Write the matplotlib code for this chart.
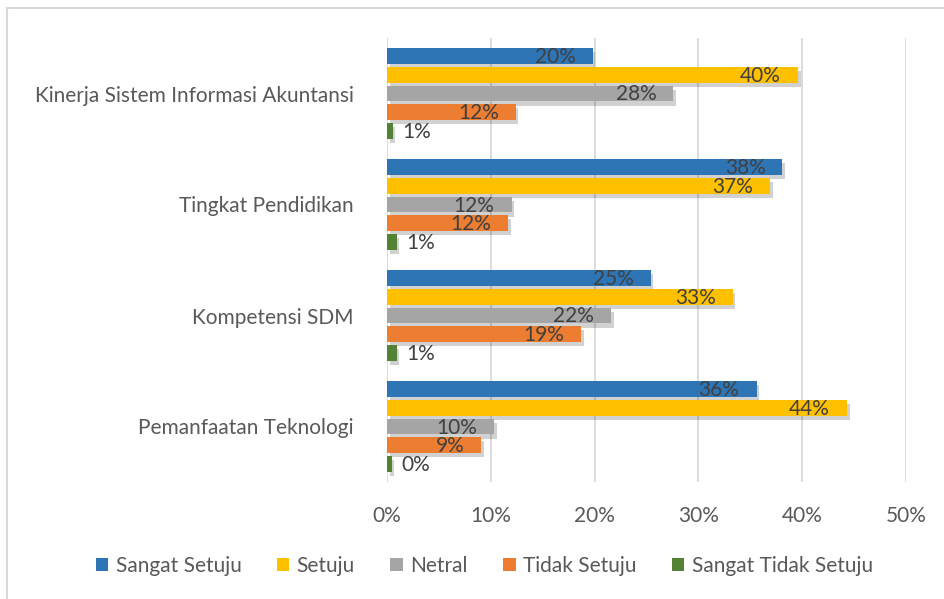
import numpy as np
import matplotlib
matplotlib.use("Agg")
from matplotlib import pyplot as plt
from matplotlib.patches import Patch, Rectangle
import matplotlib.patheffects as pe

plt.rcParams['font.family'] = ['Lato', 'DejaVu Sans']

# categories listed bottom -> top
categories = ['Pemanfaatan Teknologi', 'Kompetensi SDM', 'Tingkat Pendidikan', 'Kinerja Sistem Informasi Akuntansi']
series_names = ['Sangat Setuju', 'Setuju', 'Netral', 'Tidak Setuju', 'Sangat Tidak Setuju']
sangat_setuju = [35.6, 25.4, 38.1, 19.8]
setuju = [44.3, 33.3, 36.9, 39.6]
netral = [10.3, 21.6, 12.0, 27.6]
tidak_setuju = [9.1, 18.7, 11.7, 12.4]
sangat_tidak_setuju = [0.45, 0.93, 0.93, 0.55]
colors = ['#2E75B6', '#FFC000', '#A5A5A5', '#ED7D31', '#548235']
xticks = [0, 10, 20, 30, 40, 50]

all_series = [sangat_setuju, setuju, netral, tidak_setuju, sangat_tidak_setuju]

fig = plt.figure(figsize=(9.44, 5.99), dpi=100)
ax = fig.add_axes([387/944, 1-482/599, (906-387)/944, (482-38)/599])

pitch = 0.169
height = 0.144
y = np.arange(len(categories))
shadow = [pe.SimplePatchShadow(offset=(2, -3), shadow_rgbFace='black', alpha=0.18), pe.Normal()]

for i, vals in enumerate(all_series):
    pos = y + (2 - i) * pitch
    bars = ax.barh(pos, vals, height=height, color=colors[i], zorder=3)
    for b in bars:
        b.set_path_effects(shadow)
    for p, v in zip(pos, vals):
        txt = f"{v:.0f}%"
        if v < 3:
            ax.annotate(txt, (v, p), xytext=(10, -1), textcoords='offset pixels',
                        ha='left', va='center', fontsize=15, color='#404040', zorder=4)
        else:
            ax.annotate(txt, (v, p), xytext=(-17, -1), textcoords='offset pixels',
                        ha='right', va='center', fontsize=15, color='#404040', zorder=4)

ax.set_xlim(0, 50)
ax.set_ylim(-0.5, 3.5)
ax.set_xticks(xticks)
ax.set_xticklabels([f"{t}%" for t in xticks])
ax.set_yticks(y)
ax.set_yticklabels(categories)
ax.tick_params(axis='both', length=0, labelsize=15, labelcolor='#595959')
ax.tick_params(axis='x', pad=17)
ax.tick_params(axis='y', pad=24)
ax.grid(axis='x', color='#D9D9D9', linewidth=1.3, zorder=0)
for s in ax.spines.values():
    s.set_visible(False)

handles = [Patch(facecolor=c, edgecolor='none') for c in colors]
fig.legend(handles, series_names, loc='center', bbox_to_anchor=(0.513, 1-566/599), ncol=5,
           frameon=False, fontsize=15, labelcolor='#595959', handlelength=0.6, handleheight=0.6,
           handletextpad=0.35, columnspacing=1.7)

# outer chart frame (cropped at right and bottom)
fig.patches.append(Rectangle((7/944, -0.5), 2, 1.5 - 8/599, transform=fig.transFigure,
                             fill=False, edgecolor='#D9D9D9', linewidth=1.5))

fig.savefig('out.png', dpi=100)
